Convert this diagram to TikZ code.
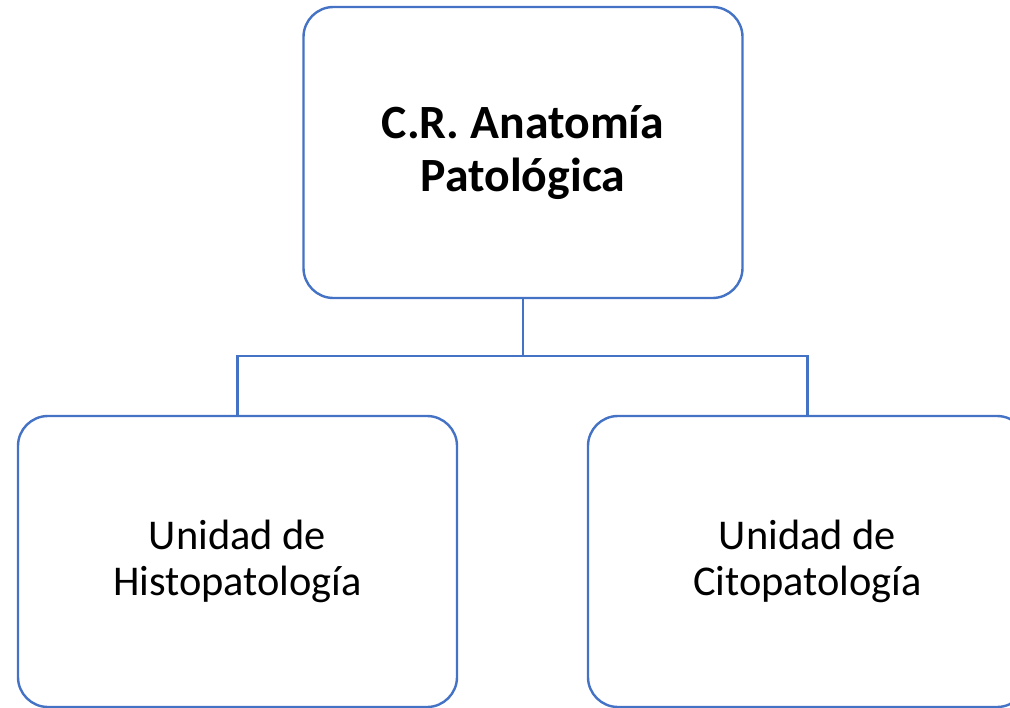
\documentclass[tikz,border=0pt]{standalone}
\usepackage{fontspec}
\setmainfont{Carlito}
\usepackage{xcolor}
\definecolor{officeblue}{HTML}{4472C4}

\begin{document}
\begin{tikzpicture}[x=0.75pt, y=-0.75pt, line width=1.8pt, color=officeblue,
      every node/.append style={align=center,text=black}]
    \tikzstyle{unit} = [draw=officeblue, rounded corners=22.5pt, minimum width=329.25pt, minimum height=218.25pt, inner sep=0pt]
    \useasboundingbox (0,0) rectangle (1010,707);
    \node (CR) [unit, font=\fontsize{35.8}{40}\selectfont\bfseries] at (523,152.5) {C.R. Anatomía\\Patológica};
    \node (Histo) [unit, font=\fontsize{31.8}{34.5}\selectfont] at (237.5,561.5) {Unidad de\\Histopatología};
    \node (Cito) [unit, font=\fontsize{31.8}{34.5}\selectfont] at (807.5,561.5) {Unidad de\\Citopatología};
    \coordinate (bus) at (523,356);
    \draw (CR.south) -- (bus);
    \draw (Histo.north) |- (bus) -| (Cito.north);
  \end{tikzpicture}
\end{document}
